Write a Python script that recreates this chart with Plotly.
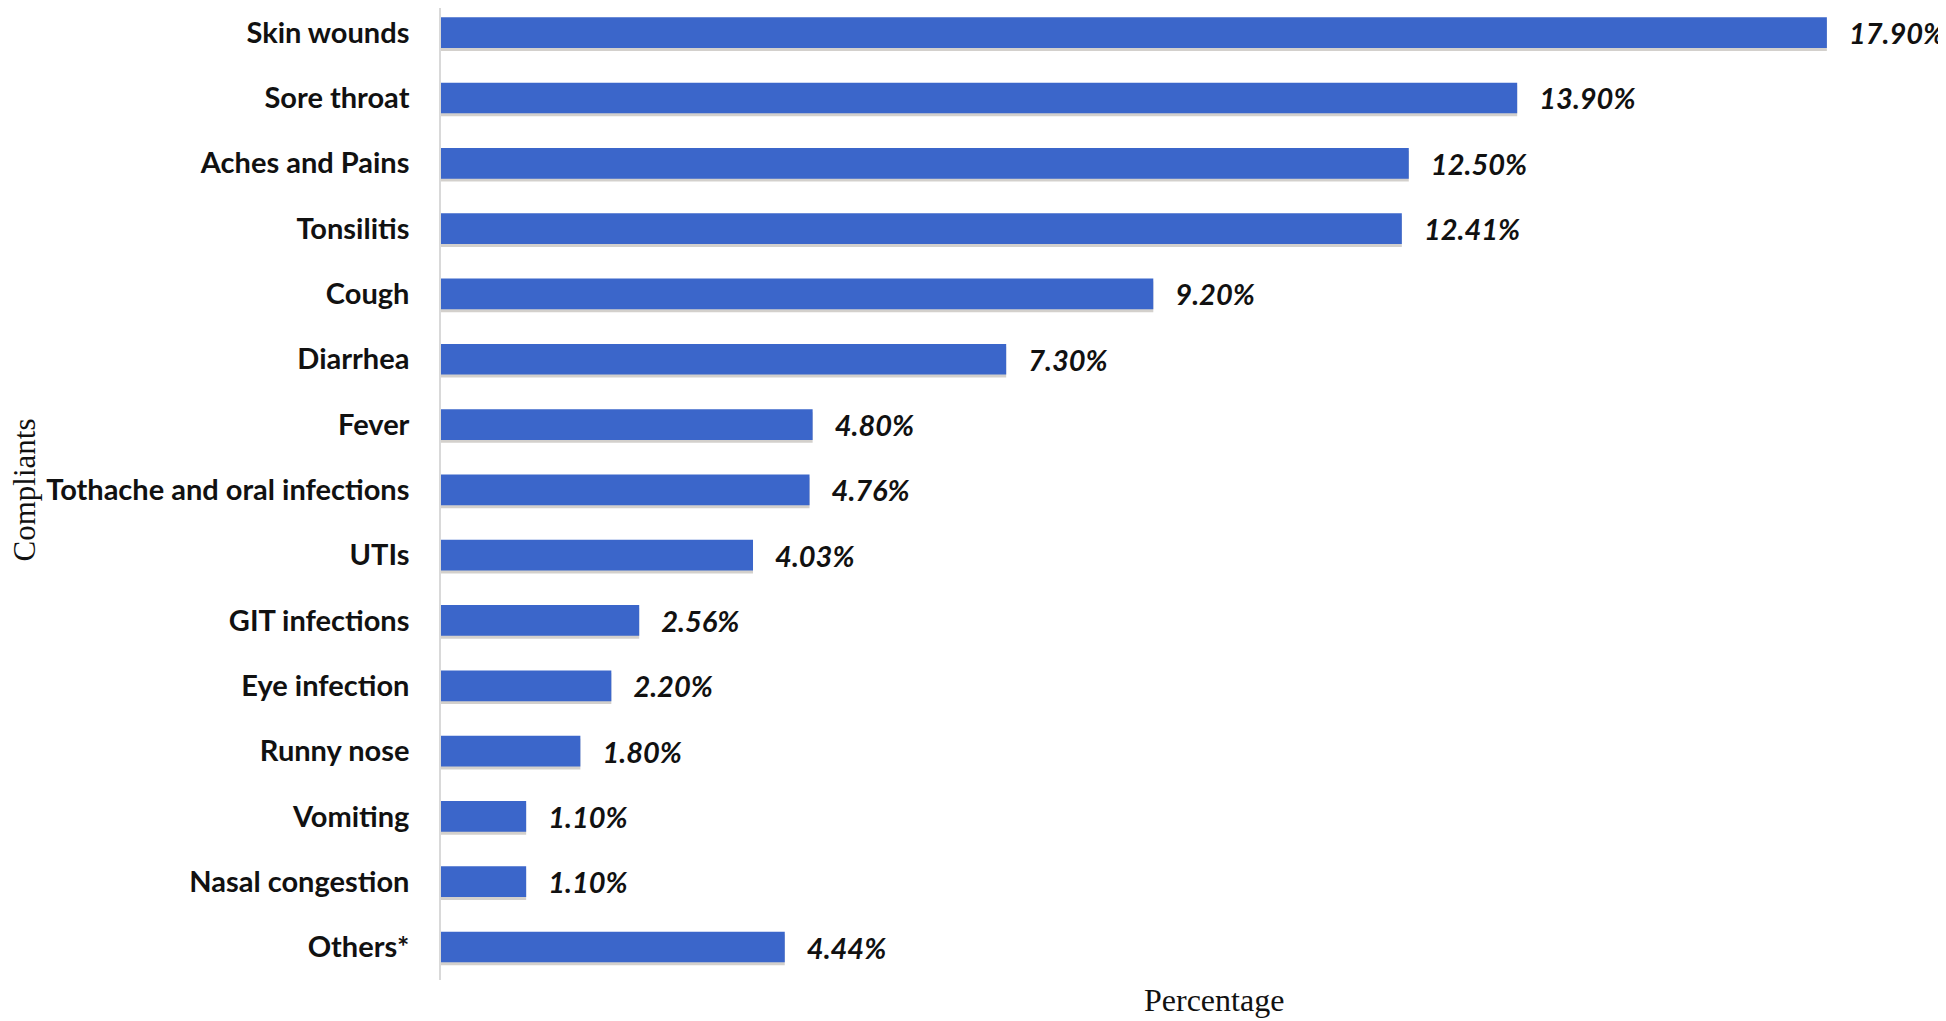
import plotly.graph_objects as go

categories = ["Skin wounds", "Sore throat", "Aches and Pains", "Tonsilitis", "Cough",
              "Diarrhea", "Fever", "Tothache and oral infections", "UTIs", "GIT infections",
              "Eye infection", "Runny nose", "Vomiting", "Nasal congestion", "Others*"]
values = [17.90, 13.90, 12.50, 12.41, 9.20, 7.30, 4.80, 4.76, 4.03, 2.56, 2.20, 1.80, 1.10, 1.10, 4.44]
x_title = "Percentage"
y_title = "Compliants"

# page body has an 8px margin, so the figure is drawn 8px smaller and everything shifted
OFF = 8
W, H = 1946 - OFF, 1021 - OFF
l, r, t, b = 441 - OFF, 3, 0, 41
pw, ph = W - l - r, H - t - b

BAR_W = 0.47
fig = go.Figure()
# soft shadow under each bar
fig.add_trace(go.Bar(
    y=categories, x=values, orientation="h",
    width=BAR_W, offset=-BAR_W / 2 + 0.045,
    marker=dict(color="rgba(110,100,85,0.30)", line=dict(width=0)),
    hoverinfo="skip", showlegend=False,
))
fig.add_trace(go.Bar(
    y=categories, x=values, orientation="h",
    width=BAR_W, offset=-BAR_W / 2,
    marker=dict(color="#3b66ca", line=dict(width=0)),
    text=[f"{v:.2f}%" for v in values],
    textposition="outside", constraintext="none", cliponaxis=False,
    texttemplate="   %{text}",
    textfont=dict(family="Lato", size=29, color="#111111", weight="bold", style="italic"),
    showlegend=False,
))


def px_to_paper(px, py):
    return (px - OFF - l) / pw, 1 - (py - OFF - t) / ph


ax, ay = px_to_paper(1214, 1000)
bx, by = px_to_paper(OFF, 490)

fig.update_layout(
    width=W, height=H,
    margin=dict(l=l, r=r, t=t, b=b),
    paper_bgcolor="white", plot_bgcolor="white",
    barmode="overlay",
    xaxis=dict(range=[0, 19.4], showgrid=False, zeroline=False, showticklabels=False,
               showline=False, ticks=""),
    yaxis=dict(range=[14.505, -0.378], showgrid=False, zeroline=False,
               showline=True, linecolor="#d9d9d9", linewidth=1.5, ticks="",
               ticklabelstandoff=24,
               tickfont=dict(family="Lato", size=29, color="#111111", weight="bold")),
    annotations=[
        dict(text=x_title, x=ax, y=ay, xref="paper", yref="paper", showarrow=False,
             xanchor="center", yanchor="middle",
             font=dict(family="Liberation Serif", size=32, color="#111111")),
        dict(text=y_title, x=bx, y=by, xref="paper", yref="paper", showarrow=False,
             xanchor="left", yanchor="middle", xshift=-4,
             textangle=-90, font=dict(family="Liberation Serif", size=31, color="#111111")),
    ],
)

fig.write_html("out.html")
